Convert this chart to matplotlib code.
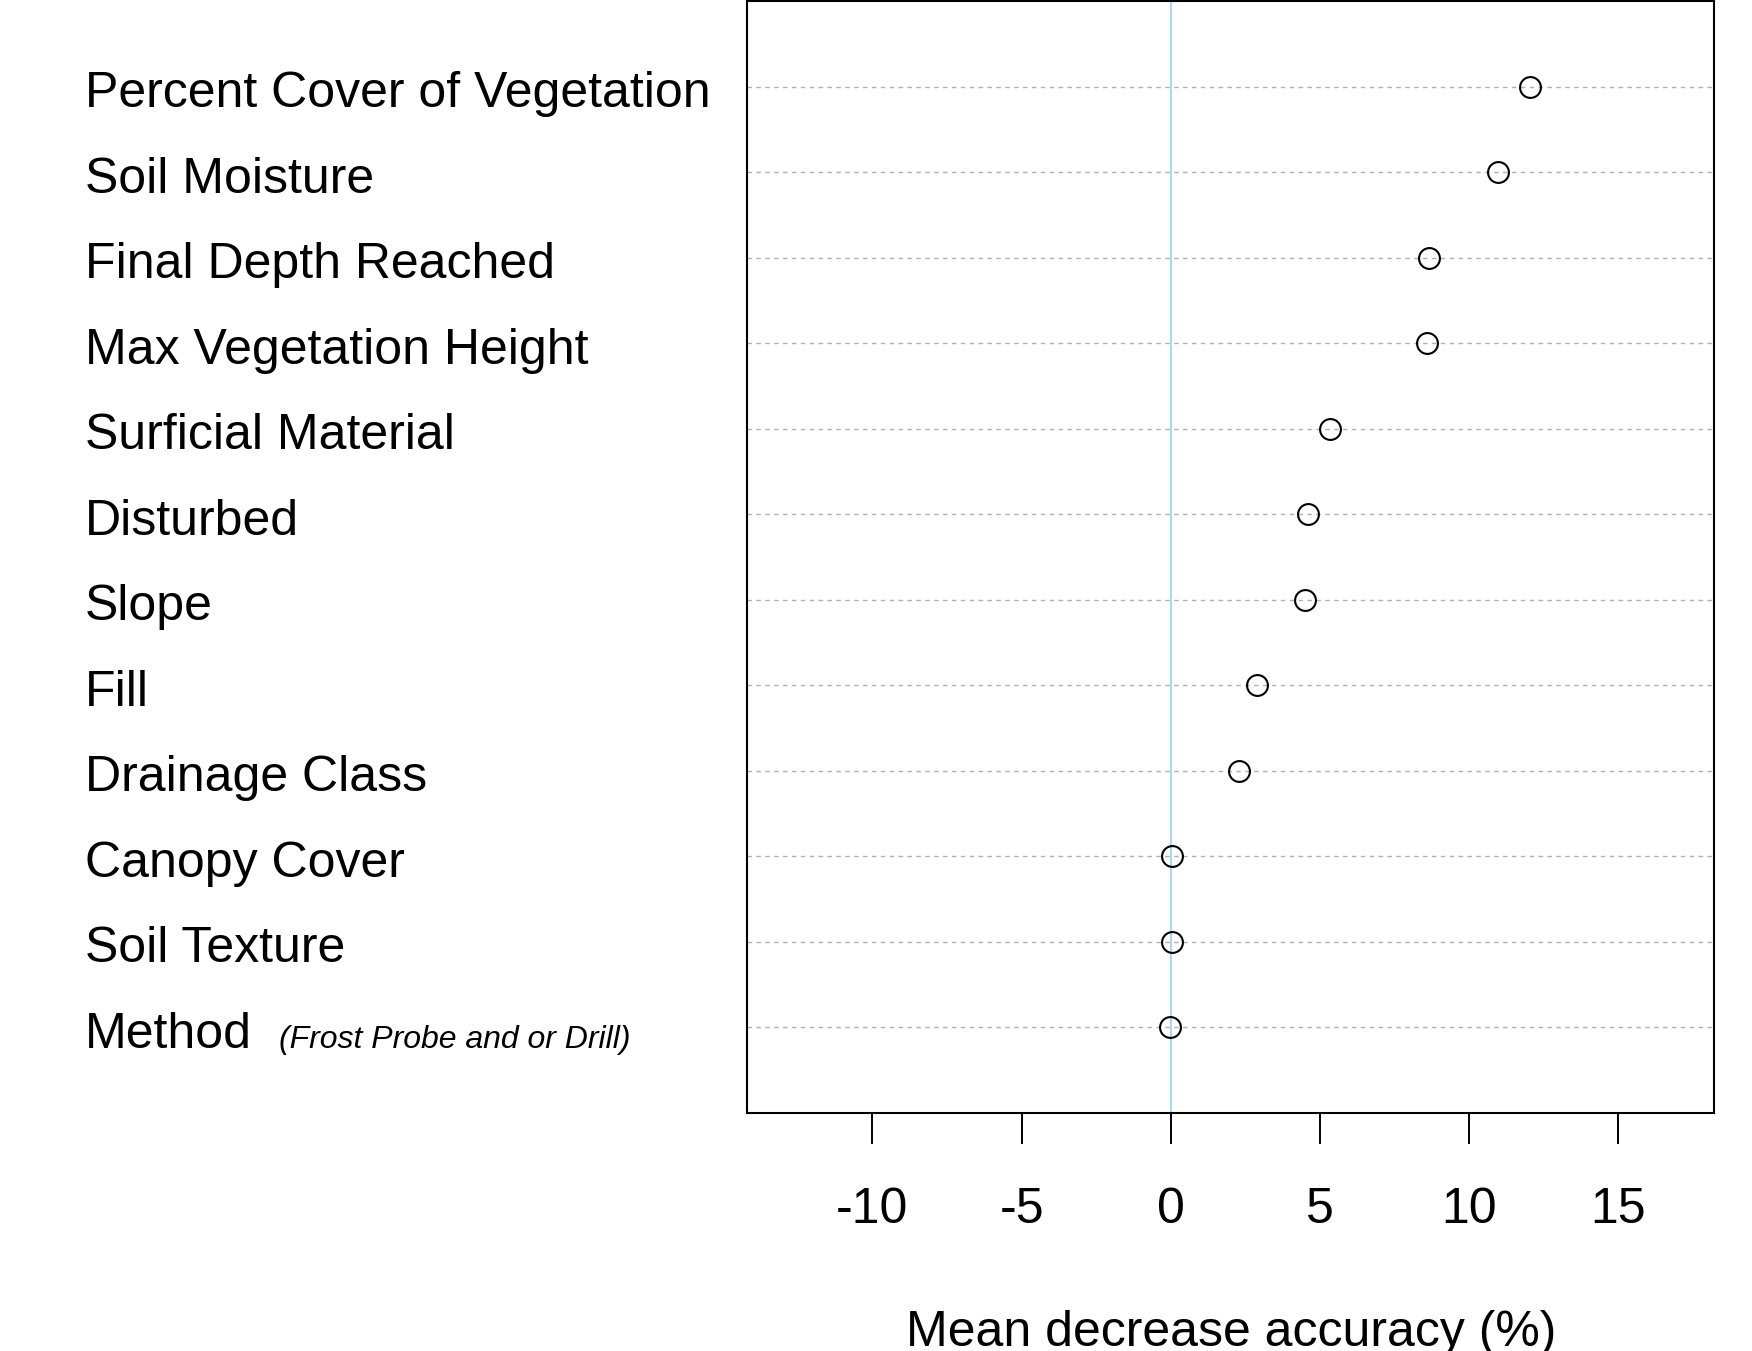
import numpy as np
import matplotlib.pyplot as plt
import matplotlib.transforms as mtransforms

# --- Variable importance (random forest, mean decrease accuracy %) ---
variables = ["Percent Cover of Vegetation", "Soil Moisture", "Final Depth Reached",
             "Max Vegetation Height", "Surficial Material", "Disturbed", "Slope",
             "Fill", "Drainage Class", "Canopy Cover", "Soil Texture", "Method"]
importance = np.array([12.05, 10.97, 8.65, 8.58, 5.32, 4.58, 4.50,
                       2.88, 2.28, 0.05, 0.05, -0.02])
method_note = "(Frost Probe and or Drill)"
xticks = [-10, -5, 0, 5, 10, 15]

plt.rcParams["font.family"] = ["Liberation Sans", "DejaVu Sans"]

fig = plt.figure(figsize=(17.52, 13.51), dpi=100)
ax = fig.add_axes([0.4264, 0.1762, 0.5519, 0.8228])

# rows from top to bottom, like R's dotchart
y = np.arange(len(variables), 0, -1)

for yy in y:
    ax.axhline(yy, color="#b0b0b0", linewidth=1.0, linestyle=(0, (3.2, 3.2)), zorder=1)
ax.axvline(0, color="lightblue", linewidth=1.5, zorder=2)

ax.plot(importance, y, linestyle="none", marker="o", markersize=15,
        markerfacecolor="none", markeredgecolor="black", markeredgewidth=1.5, zorder=3)

ax.set_xlim(-14.2, 18.2)
ax.set_ylim(0, 13)
ax.set_yticks([])
ax.set_xticks(xticks)
ax.set_xticklabels([str(t) for t in xticks], fontsize=36)
ax.tick_params(axis="x", length=22, width=1.4, pad=31, color="black")
for s in ax.spines.values():
    s.set_linewidth(1.5)

# row labels, left aligned in the left margin
trans = mtransforms.blended_transform_factory(fig.transFigure, ax.transData)
trans = trans + mtransforms.ScaledTranslation(0, -14.8 / 72, fig.dpi_scale_trans)
for name, yy in zip(variables, y):
    ax.text(0.0485, yy, name, transform=trans, fontsize=36, ha="left", va="baseline")
ax.text(0.159, y[-1], method_note, transform=trans, fontsize=23, style="italic",
        ha="left", va="baseline")

fig.text(0.7025, 0.004, "Mean decrease accuracy (%)", fontsize=36, ha="center", va="baseline")

fig.savefig("out.png", dpi=100)
